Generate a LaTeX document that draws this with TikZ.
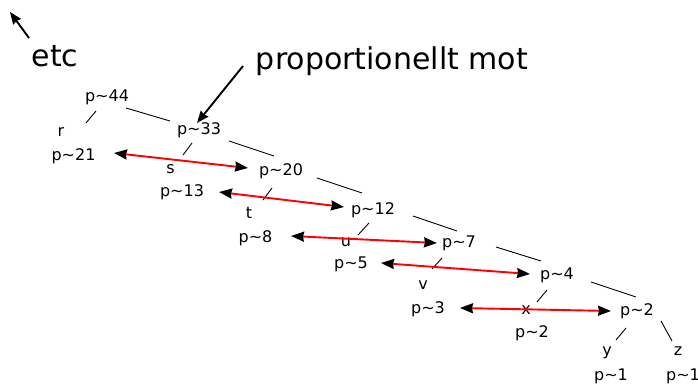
\documentclass[tikz,border=0pt]{standalone}
\usepackage{fontspec}
\setmainfont{DejaVu Sans}
\usetikzlibrary{arrows.meta}

\newcommand{\ptil}[1]{p\textasciitilde#1}

\begin{document}
\begin{tikzpicture}[x=1pt, y=-1pt,
    % text styles
    lbl/.style={anchor=base, inner sep=1pt, font=\fontsize{16}{19}\selectfont},
    big/.style={anchor=base, inner sep=1pt, font=\fontsize{30}{36}\selectfont},
    % line styles
    edge/.style={line width=0.9pt},
    link/.style={{Stealth[length=13pt,width=10pt,inset=1pt,black]}-{Stealth[length=13pt,width=10pt,inset=1pt,black]}, draw=red, line width=1.9pt},
    pointer/.style={-{Stealth[length=12pt,width=9.5pt,inset=1pt]}, line width=1.9pt}
]
    \useasboundingbox (0,0) rectangle (698,383);

    % big labels
    \node[big] (etc) at (55,66.7) {etc};
    \node[big] (prop) at (392,69) {proportionellt mot};
    \coordinate (etcup) at (10,12);

    % tree nodes
    \node[lbl] (p44) at (107,101.7) {\ptil{44}};
    \node[lbl] (r) at (61,136.7) {r};
    \node[lbl] (p21) at (73.5,160.7) {\ptil{21}};
    \node[lbl] (p33) at (199,134.3) {\ptil{33}};
    \node[lbl] (s) at (170.5,173.3) {s};
    \node[lbl] (p20) at (281,175.7) {\ptil{20}};
    \node[lbl] (p13) at (182,196.7) {\ptil{13}};
    \node[lbl] (t) at (249,218.3) {t};
    \node[lbl] (p12) at (373,214) {\ptil{12}};
    \node[lbl] (p8) at (255.5,242.7) {\ptil{8}};
    \node[lbl] (u) at (346,246.7) {u};
    \node[lbl] (p7) at (459,247.3) {\ptil{7}};
    \node[lbl] (p5) at (351,268.7) {\ptil{5}};
    \node[lbl] (v) at (423,289) {v};
    \node[lbl] (p4) at (557,279.3) {\ptil{4}};
    \node[lbl] (p3) at (428,313.3) {\ptil{3}};
    \node[lbl] (x) at (526,314.3) {x};
    \node[lbl] (p2x) at (532,337.7) {\ptil{2}};
    \node[lbl] (p2) at (637,315) {\ptil{2}};
    \node[lbl] (y) at (607,355) {y};
    \node[lbl] (z) at (678,355) {z};
    \node[lbl] (p1y) at (611,380) {\ptil{1}};
    \node[lbl] (p1z) at (683,380) {\ptil{1}};

    % tree branches
    \draw[edge] ([shift={(19,6.3)}]p44.base) -- ([shift={(-29,-13.3)}]p33.base);
    \draw[edge] ([shift={(-11,9.3)}]p44.base) -- ([shift={(25,-13.7)}]r.base);
    \draw[edge] ([shift={(-7,8.7)}]p33.base) -- ([shift={(12.5,-18.3)}]s.base);
    \draw[edge] ([shift={(30,6.7)}]p33.base) -- ([shift={(-7,-19.7)}]p20.base);
    \draw[edge] ([shift={(-9,12.3)}]p20.base) -- ([shift={(14,-18.3)}]t.base);
    \draw[edge] ([shift={(36,2.3)}]p20.base) -- ([shift={(-11,-21)}]p12.base);
    \draw[edge] ([shift={(-4,9)}]p12.base) -- ([shift={(12,-11.7)}]u.base);
    \draw[edge] ([shift={(40,2)}]p12.base) -- ([shift={(-2,-16.3)}]p7.base);
    \draw[edge] ([shift={(-17,10.7)}]p7.base) -- ([shift={(9,-20)}]v.base);
    \draw[edge] ([shift={(37,-0.3)}]p7.base) -- ([shift={(-16,-18.3)}]p4.base);
    \draw[edge] ([shift={(-10,10.7)}]p4.base) -- ([shift={(11,-12.3)}]x.base);
    \draw[edge] ([shift={(34,2.7)}]p4.base) -- ([shift={(-1,-18)}]p2.base);
    \draw[edge] ([shift={(-11,13)}]p2.base) -- ([shift={(9,-15)}]y.base);
    \draw[edge] ([shift={(24,6)}]p2.base) -- ([shift={(-6,-14)}]z.base);

    % red links
    \draw[link] ([shift={(40.5,-7.7)}]p21.base) -- ([shift={(-33,-7.7)}]p20.base);
    \draw[link] ([shift={(37,-4.7)}]p13.base) -- ([shift={(-29,-7)}]p12.base);
    \draw[link] ([shift={(35.5,-6.7)}]p8.base) -- ([shift={(-22,-4.3)}]p7.base);
    \draw[link] ([shift={(30,-5.7)}]p5.base) -- ([shift={(-27,-5.3)}]p4.base);
    \draw[link] ([shift={(32,-5.3)}]p3.base) -- ([shift={(-26,-4)}]p2.base);

    % pointers
    \draw[pointer] ([shift={(-26,-28.7)}]etc.base) -- (etcup);
    \draw[pointer] ([shift={(-149,-3)}]prop.base) -- ([shift={(-2,-11.3)}]p33.base);
\end{tikzpicture}
\end{document}
